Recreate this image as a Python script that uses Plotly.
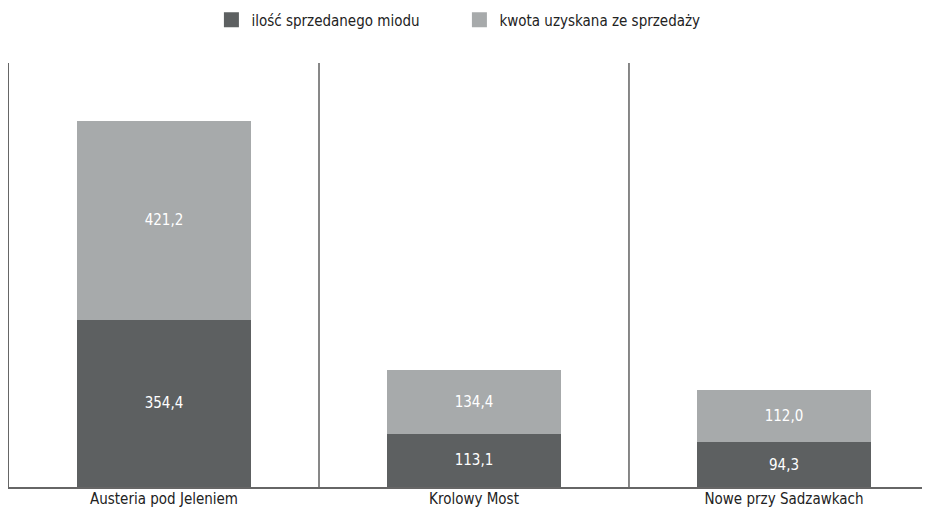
import plotly.graph_objects as go

categories = ["Austeria pod Jeleniem", "Krolowy Most", "Nowe przy Sadzawkach"]
ilosc = [354.4, 113.1, 94.3]
kwota = [421.2, 134.4, 112.0]
series_names = ["ilość sprzedanego miodu", "kwota uzyskana ze sprzedaży"]

FONT = "DejaVu Sans Condensed, Liberation Sans Narrow, Roboto, sans-serif"
DARK = "#5d6061"
LIGHT = "#a7aaab"

x_idx = list(range(len(categories)))

fig = go.Figure()
for name, vals, col in [(series_names[0], ilosc, DARK), (series_names[1], kwota, LIGHT)]:
    fig.add_trace(go.Bar(
        x=x_idx, y=vals, name=name, showlegend=False,
        marker=dict(color=col, line=dict(width=0)),
        texttemplate="%{y:.1f}", textposition="inside", insidetextanchor="middle",
        textfont=dict(color="white", size=15, family=FONT),
        hoverinfo="skip",
    ))
# legend entries with larger square symbols
for name, col in [(series_names[0], DARK), (series_names[1], LIGHT)]:
    fig.add_trace(go.Scatter(
        x=[None], y=[None], mode="markers", name=name, showlegend=True,
        marker=dict(symbol="square", size=15, color=col), hoverinfo="skip",
    ))

for b in [0.5, 1.5]:
    fig.add_shape(type="line", xref="x", yref="paper", x0=b, x1=b, y0=0, y1=1,
                  line=dict(color="#111111", width=1))

fig.update_layout(
    width=922, height=504,
    barmode="stack", bargap=0.44,
    separators=", ",
    paper_bgcolor="white", plot_bgcolor="white",
    margin=dict(l=1, r=0, t=55, b=25, autoexpand=False),
    font=dict(family=FONT, size=15, color="#222222"),
    showlegend=True,
    legend=dict(orientation="h", xref="container", yref="container",
                x=0.4896, xanchor="center", y=0.976, yanchor="middle",
                font=dict(size=15, family=FONT, color="#222222"),
                itemwidth=30, itemsizing="trace", traceorder="normal",
                entrywidth=203, itemclick=False),
    xaxis=dict(range=[-0.5, 2.471], tickvals=x_idx, ticktext=categories,
               showgrid=False, zeroline=False, showline=True, linecolor="#666666",
               linewidth=2, ticks="", automargin=False, ticklabelstandoff=-3,
               tickfont=dict(size=15, family=FONT, color="#222222")),
    yaxis=dict(range=[0, 898], showgrid=False, zeroline=False, showticklabels=False,
               showline=True, linecolor="#666666", linewidth=2, ticks="", automargin=False),
)

fig.write_html("out.html")
